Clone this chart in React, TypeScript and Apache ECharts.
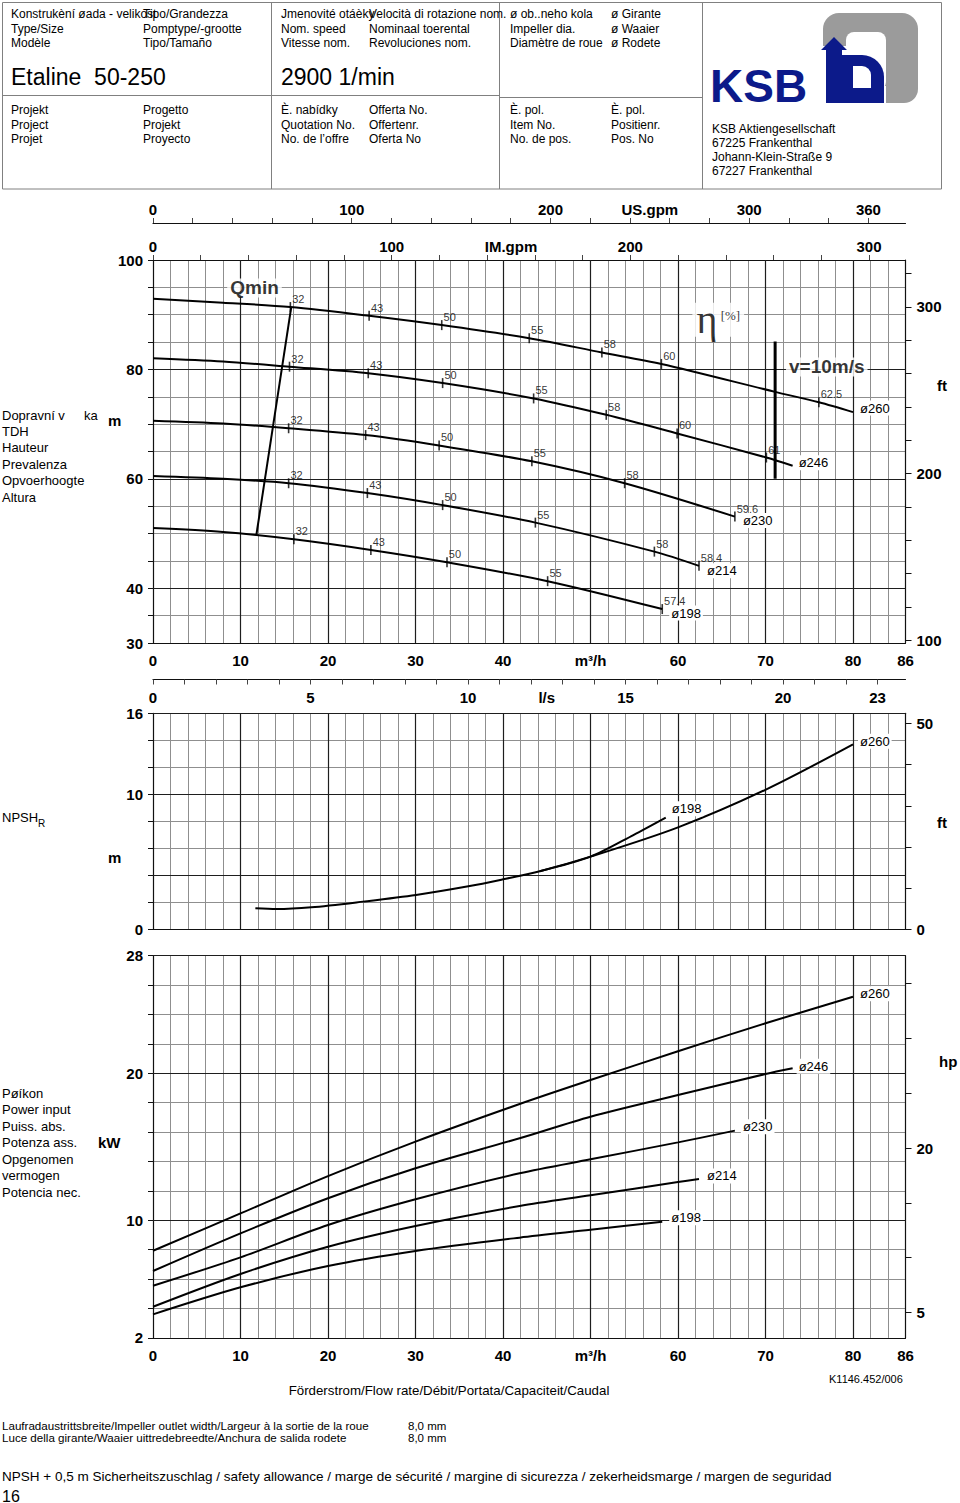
import React, { useEffect, useRef } from 'react';
import * as echarts from 'echarts';

const FONT = '"Liberation Sans", Arial, Helvetica, sans-serif';
const SERIF = '"Liberation Serif", "DejaVu Serif", serif';

// ---- unit conversions ----
const M3H_PER_IMGPM = 0.272765;
const M3H_PER_USGPM = 0.2271247;
const M3H_PER_LS = 3.6;
const FT_PER_M = 3.28084;
const KW_PER_HP = 0.7457;

// ---- axis ranges ----
const Q_MIN = 0, Q_MAX = 86;
const HEAD_MIN = 30, HEAD_MAX = 100;
const NPSH_MIN = 0, NPSH_MAX = 16;
const POWER_MIN = 2, POWER_MAX = 28;

// ---- tick labels ----
const flowLabels = [0, 10, 20, 30, 40, 50, 60, 70, 80, 86];
const flowUnitAt = 50;
const imGpmTicks = [0, 20, 40, 60, 80, 100, 120, 140, 160, 180, 200, 220, 240, 260, 280, 300];
const imGpmLabels = [0, 100, 150, 200, 300];
const imGpmUnitAt = 150;
const usGpmTicks = [0, 20, 40, 60, 80, 100, 120, 140, 160, 180, 200, 220, 240, 260, 280, 300, 320, 340, 360];
const usGpmLabels = [0, 100, 200, 250, 300, 360];
const usGpmUnitAt = 250;
const lsTicks = [0, 1, 2, 3, 4, 5, 6, 7, 8, 9, 10, 11, 12, 13, 14, 15, 16, 17, 18, 19, 20, 21, 22, 23];
const lsLabels = [0, 5, 10, 12.5, 15, 20, 23];
const lsUnitAt = 12.5;
const headLabels = [30, 40, 60, 80, 100];
const headFtTicks = [100, 120, 140, 160, 180, 200, 220, 240, 260, 280, 300, 320];
const headFtLabels = [100, 200, 300];
const npshLabels = [0, 10, 16];
const npshFtTicks = [0, 10, 20, 30, 40, 50];
const npshFtLabels = [0, 50];
const powerLabels = [2, 10, 20, 28];
const hpTicks = [5, 10, 15, 20, 25, 30, 35];
const hpLabels = [5, 20];

// dark (major) grid lines
const flowDark = [10, 20, 30, 40, 50, 60, 70, 80];
const headDark = [40, 60, 80];
const npshDark = [4, 10, 16];
const powerDark = [10, 20, 28];

// ---- curves ----
const diameters = ['ø260', 'ø246', 'ø230', 'ø214', 'ø198'];

// head H [m] vs Q [m3/h]
const head260 = [[0, 92.9], [8, 92.2], [15.7, 91.4], [24.7, 89.8], [33, 88.1], [43, 85.7], [51.3, 83.1], [58.1, 81.0], [71.1, 75.9], [76.1, 74.0], [80, 72.2]];
const head246 = [[0, 82.05], [8, 81.45], [15.6, 80.5], [24.6, 79.3], [33.1, 77.5], [43.5, 74.7], [51.8, 71.7], [59.9, 68.3], [70.1, 63.9], [73.1, 62.4]];
const head230 = [[0, 70.6], [8, 70.1], [15.5, 69.25], [24.3, 68.0], [32.7, 66.1], [43.3, 63.2], [53.9, 59.2], [66.5, 53.1]];
const head214 = [[0, 60.5], [8, 60.0], [15.5, 59.2], [24.5, 57.4], [33.1, 55.2], [43.7, 52.0], [57.3, 46.7], [62.4, 44.1]];
const head198 = [[0, 51.0], [8, 50.3], [16.1, 48.95], [24.9, 47.0], [33.6, 44.75], [45.1, 41.3], [58.2, 36.2]];

// efficiency marks [Q, H, eta]
const eff260 = [[15.7, 91.4, '32'], [24.7, 89.8, '43'], [33.0, 88.1, '50'], [43.0, 85.7, '55'], [51.3, 83.1, '58'], [58.1, 81.0, '60'], [76.1, 74.0, '62.5']];
const eff246 = [[15.6, 80.5, '32'], [24.6, 79.3, '43'], [33.1, 77.5, '50'], [43.5, 74.7, '55'], [51.8, 71.7, '58'], [59.9, 68.3, '60'], [70.1, 63.9, '61']];
const eff230 = [[15.5, 69.25, '32'], [24.3, 68.0, '43'], [32.7, 66.1, '50'], [43.3, 63.2, '55'], [53.9, 59.2, '58'], [66.5, 53.1, '59.6']];
const eff214 = [[15.5, 59.2, '32'], [24.5, 57.4, '43'], [33.1, 55.2, '50'], [43.7, 52.0, '55'], [57.3, 46.7, '58'], [62.4, 44.1, '58.4']];
const eff198 = [[16.1, 48.95, '32'], [24.9, 47.0, '43'], [33.6, 44.75, '50'], [45.1, 41.3, '55'], [58.2, 36.2, '57.4']];

const qminLine = [[15.8, 91.4], [11.8, 49.6]];
const velocityLine = [[71.1, 85.1], [71.1, 60]];
const qminTextAt = [11.6, 94.9];
const etaTextAt = [64.6, 89.1];
const velocityTextAt = [77.0, 80.45];

// NPSH [m]
const npsh260 = [[11.7, 1.56], [14.1, 1.5], [18.1, 1.63], [24.0, 2.05], [30.05, 2.54], [36.2, 3.2], [40, 3.7], [44.2, 4.3], [50, 5.38], [60, 7.55], [70.1, 10.37], [80, 13.7]];
const npsh198 = [[44.2, 4.3], [50, 5.38], [54.9, 6.98], [58.6, 8.27]];

// power [kW]
const power260 = [[0, 7.93], [10, 10.47], [20, 13.01], [30, 15.35], [41.9, 17.91], [50, 19.54], [60, 21.5], [70, 23.4], [80, 25.21]];
const power246 = [[0, 6.55], [10, 9.11], [20, 11.5], [30, 13.54], [41.9, 15.58], [50, 17.05], [60, 18.52], [70, 19.95], [73.1, 20.34]];
const power230 = [[0, 5.55], [10, 7.48], [20, 9.68], [30, 11.43], [41.9, 13.2], [50, 14.15], [60, 15.3], [66.5, 16.1]];
const power214 = [[0, 4.12], [10, 6.35], [20, 8.2], [30, 9.61], [41.9, 10.97], [50, 11.7], [60, 12.6], [62.4, 12.81]];
const power198 = [[0, 3.6], [10, 5.44], [20, 6.89], [30, 7.91], [41.9, 8.82], [50, 9.35], [58.2, 9.9]];

// ---- styles / layout ----
const LIGHT = '#8f8f8f';
const DARK = '#1e1e1e';
const AXIS = '#111111';
const GRID_LEFT = 153;
const GRID_WIDTH = 752.5;
const HEAD_BOX = { top: 260, height: 383 };
const NPSH_BOX = { top: 713.3, height: 216 };
const POWER_BOX = { top: 955.7, height: 382.2 };

const headLabelOffsets = [[5, -4], [4, -3], [6, 4], [6, 5], [7, 4]];
const npshLabelOffsets = [[4, -9], [5, -3]];
const powerLabelOffsets = [[5, -3], [4, -2], [6, -4], [6, -3], [7, -4]];

const tickFont = { color: '#000', fontFamily: FONT, fontWeight: 'bold' as const, fontSize: 15 };

function flowAxis(gridIndex: number, showLabels: boolean) {
  return {
    type: 'value', gridIndex, min: Q_MIN, max: Q_MAX, interval: 2, position: 'bottom',
    axisLine: { show: true, onZero: false, lineStyle: { color: AXIS, width: 1.2 } },
    axisTick: { show: false },
    axisLabel: showLabels
      ? { show: true, customValues: flowLabels, formatter: (v: number) => (v === flowUnitAt ? 'm³/h' : String(v)), margin: 10, ...tickFont }
      : { show: false },
    splitLine: { show: true, lineStyle: { color: LIGHT, width: 1 } },
  };
}

function leftAxis(gridIndex: number, min: number, max: number, interval: number, labels: number[]) {
  return {
    type: 'value', gridIndex, min, max, interval, position: 'left',
    axisLine: { show: true, onZero: false, lineStyle: { color: AXIS, width: 1.2 } },
    axisTick: { show: true, length: 5, lineStyle: { color: AXIS } },
    axisLabel: { show: true, customValues: labels, margin: 10, ...tickFont },
    splitLine: { show: true, lineStyle: { color: LIGHT, width: 1 } },
  };
}

function rightAxis(gridIndex: number, min: number, max: number, ticks: number[], labels: number[]) {
  return {
    type: 'value', gridIndex, min, max, position: 'right',
    axisLine: { show: true, onZero: false, lineStyle: { color: AXIS, width: 1.2 } },
    axisTick: { show: true, length: 6, customValues: ticks, lineStyle: { color: AXIS } },
    axisLabel: { show: true, customValues: labels, margin: 11, ...tickFont },
    splitLine: { show: false },
  };
}

function topAxis(gridIndex: number, max: number, offset: number, ticks: number[], labels: number[], unitAt: number, unit: string, inside: boolean) {
  return {
    type: 'value', gridIndex, min: 0, max, position: 'top', offset,
    axisLine: { show: true, onZero: false, lineStyle: { color: AXIS, width: 1.2 } },
    axisTick: { show: true, inside, length: 5, customValues: ticks, lineStyle: { color: '#444' } },
    axisLabel: {
      show: true, inside, customValues: labels, margin: inside ? 10 : 6,
      formatter: (v: number) => (v === unitAt ? unit : String(v)), ...tickFont,
    },
    splitLine: { show: false },
  };
}

function majorLines(xAxisIndex: number, yAxisIndex: number, xs: number[], ys: number[], anchor: number[]) {
  return {
    type: 'line', xAxisIndex, yAxisIndex, data: [anchor], symbol: 'none', silent: true, z: 1,
    lineStyle: { opacity: 0 },
    markLine: {
      silent: true, symbol: ['none', 'none'], label: { show: false }, animation: false,
      emphasis: { disabled: true },
      lineStyle: { color: DARK, width: 1.2, type: 'solid' },
      data: [...xs.map((x) => ({ xAxis: x })), ...ys.map((y) => ({ yAxis: y }))],
    },
  };
}

function curve(name: string, data: number[][], xAxisIndex: number, yAxisIndex: number, off: number[] | null) {
  return {
    type: 'line', name, data, xAxisIndex, yAxisIndex, smooth: 0.3, symbol: 'none', silent: true, z: 5,
    lineStyle: { color: '#000', width: 2 },
    endLabel: off
      ? { show: true, formatter: name, distance: off[0], offset: [0, off[1]], color: '#000', fontFamily: FONT, fontSize: 13, backgroundColor: '#fff', padding: [1, 2], textBorderWidth: 0 }
      : { show: false },
  };
}

function effMarks(data: (number | string)[][]) {
  return {
    type: 'scatter', xAxisIndex: 0, yAxisIndex: 0, silent: true, z: 6,
    symbol: 'rect', symbolSize: [1.6, 10], itemStyle: { color: '#000' },
    data: data.map((d) => ({ value: [d[0], d[1]], name: d[2] })),
    label: { show: true, formatter: '{b}', position: 'right', distance: 1, offset: [0, -8], color: '#000', fontFamily: FONT, fontSize: 11, textBorderWidth: 0 },
  };
}

function note(at: number[], label: any) {
  return {
    type: 'scatter', xAxisIndex: 0, yAxisIndex: 0, silent: true, z: 7, symbolSize: 0,
    data: [{ value: at }],
    label: { show: true, position: 'inside', textBorderWidth: 0, ...label },
  };
}

type G = any;
function T(x: number, y: number, text: string, size = 12, extra: any = {}): G {
  return { type: 'text', x, y, silent: true, z: 100, style: { text, fontSize: size, fontFamily: FONT, fill: '#000', verticalAlign: 'middle', align: 'left', ...extra } };
}
function L(x1: number, y1: number, x2: number, y2: number): G {
  return { type: 'line', silent: true, z: 100, shape: { x1, y1, x2, y2 }, style: { stroke: '#808080', lineWidth: 1 } };
}

function buildGraphics(): G[] {
  const g: G[] = [];
  // header frame
  g.push({ type: 'rect', silent: true, z: 100, shape: { x: 2.5, y: 2.5, width: 939, height: 186.5 }, style: { fill: 'none', stroke: '#808080', lineWidth: 1 } });
  g.push(L(271.5, 2.5, 271.5, 189));
  g.push(L(499.5, 2.5, 499.5, 189));
  g.push(L(702.5, 2.5, 702.5, 189));
  g.push(L(2.5, 95.5, 499.5, 95.5));
  g.push(L(499.5, 97.5, 702.5, 97.5));
  const rowsTop = [14, 29, 43];
  const rowsBot = [110, 125, 139];
  const cols: [number, string[], string[]][] = [
    [11, ['Konstrukèní øada - velikost', 'Type/Size', 'Modèle'], ['Projekt', 'Project', 'Projet']],
    [143, ['Tipo/Grandezza', 'Pomptype/-grootte', 'Tipo/Tamaño'], ['Progetto', 'Projekt', 'Proyecto']],
    [281, ['Jmenovité otáèky', 'Nom. speed', 'Vitesse nom.'], ['È. nabídky', 'Quotation No.', 'No. de l’offre']],
    [369, ['Velocità di rotazione nom.', 'Nominaal toerental', 'Revoluciones nom.'], ['Offerta No.', 'Offertenr.', 'Oferta No']],
    [510, ['ø ob..neho kola', 'Impeller dia.', 'Diamètre de roue'], ['È. pol.', 'Item No.', 'No. de pos.']],
    [611, ['ø Girante', 'ø Waaier', 'ø Rodete'], ['È. pol.', 'Positienr.', 'Pos. No']],
  ];
  cols.forEach(([x, top, bot]) => {
    top.forEach((s, i) => g.push(T(x, rowsTop[i], s, 12)));
    bot.forEach((s, i) => g.push(T(x, rowsBot[i], s, 12)));
  });
  g.push(T(11, 77, 'Etaline  50-250', 23));
  g.push(T(281, 77, '2900 1/min', 23));
  // KSB logo
  g.push({ type: 'rect', silent: true, z: 100, shape: { x: 823, y: 13, width: 95, height: 90, r: [16, 16, 14, 4] }, style: { fill: '#9b9b9b' } });
  g.push({ type: 'rect', silent: true, z: 101, shape: { x: 846, y: 32, width: 40, height: 58, r: 8 }, style: { fill: '#fff' } });
  g.push({ type: 'rect', silent: true, z: 101, shape: { x: 819, y: 46, width: 30, height: 60 }, style: { fill: '#fff' } });
  g.push({ type: 'rect', silent: true, z: 101, shape: { x: 840, y: 86, width: 46, height: 20 }, style: { fill: '#fff' } });
  g.push({ type: 'polygon', silent: true, z: 102, shape: { points: [[826, 103], [826, 50], [821, 50], [834, 37], [847, 50], [842, 50], [842, 103]] }, style: { fill: '#0c1a8a' } });
  g.push({ type: 'rect', silent: true, z: 102, shape: { x: 840, y: 55, width: 44, height: 48, r: [0, 22, 0, 0] }, style: { fill: '#0c1a8a' } });
  g.push({ type: 'rect', silent: true, z: 103, shape: { x: 853, y: 66, width: 18, height: 22, r: [0, 9, 0, 0] }, style: { fill: '#fff' } });
  g.push(T(710, 86, 'KSB', 46, { fontWeight: 'bold', fill: '#0c1a8a' }));
  ['KSB Aktiengesellschaft', '67225 Frankenthal', 'Johann-Klein-Straße 9', '67227 Frankenthal'].forEach((s, i) => g.push(T(712, 129 + i * 14, s, 12)));
  // left captions
  g.push(T(2, 415, 'Dopravní v', 13));
  g.push(T(84, 415, 'ka', 13));
  ['TDH', 'Hauteur', 'Prevalenza', 'Opvoerhoogte', 'Altura'].forEach((s, i) => g.push(T(2, 431 + i * 16.5, s, 13)));
  g.push(T(108, 420, 'm', 15, { fontWeight: 'bold' }));
  g.push(T(2, 817, 'NPSH', 13));
  g.push(T(38, 823, 'R', 10));
  g.push(T(108, 857, 'm', 15, { fontWeight: 'bold' }));
  ['Pøíkon', 'Power input', 'Puiss. abs.', 'Potenza ass.', 'Opgenomen', 'vermogen', 'Potencia nec.'].forEach((s, i) => g.push(T(2, 1093 + i * 16.5, s, 13)));
  g.push(T(98, 1142, 'kW', 15, { fontWeight: 'bold' }));
  g.push(T(937, 385, 'ft', 15, { fontWeight: 'bold' }));
  g.push(T(937, 822, 'ft', 15, { fontWeight: 'bold' }));
  g.push(T(939, 1061, 'hp', 15, { fontWeight: 'bold' }));
  // footer
  g.push(T(829, 1379, 'K1146.452/006', 11));
  g.push(T(449, 1390, 'Förderstrom/Flow rate/Débit/Portata/Capaciteit/Caudal', 13.3, { align: 'center' }));
  g.push(T(2, 1425, 'Laufradaustrittsbreite/Impeller outlet width/Largeur à la sortie de la roue', 11.6));
  g.push(T(2, 1437, 'Luce della girante/Waaier uittredebreedte/Anchura de salida rodete', 11.6));
  g.push(T(408, 1426, '8,0 mm', 11.5));
  g.push(T(408, 1438, '8,0 mm', 11.5));
  g.push(T(2, 1476, 'NPSH + 0,5 m Sicherheitszuschlag / safety allowance / marge de sécurité / margine di sicurezza / zekerheidsmarge / margen de seguridad', 13.5));
  g.push(T(2, 1496, '16', 16));
  return g;
}

function buildOption() {
  const headCurves = [head260, head246, head230, head214, head198];
  const powerCurves = [power260, power246, power230, power214, power198];
  const series: any[] = [];
  series.push(majorLines(0, 0, flowDark, headDark, [Q_MIN, HEAD_MIN]));
  series.push(majorLines(3, 2, flowDark, npshDark, [Q_MIN, NPSH_MIN]));
  series.push(majorLines(5, 4, flowDark, powerDark, [Q_MIN, POWER_MIN]));
  headCurves.forEach((d, i) => series.push(curve(diameters[i], d, 0, 0, headLabelOffsets[i])));
  [eff260, eff246, eff230, eff214, eff198].forEach((e) => series.push(effMarks(e)));
  series.push({ type: 'line', data: qminLine, xAxisIndex: 0, yAxisIndex: 0, symbol: 'none', silent: true, z: 5, lineStyle: { color: '#000', width: 2 } });
  series.push({ type: 'line', data: velocityLine, xAxisIndex: 0, yAxisIndex: 0, symbol: 'none', silent: true, z: 5, lineStyle: { color: '#000', width: 3 } });
  series.push(note(qminTextAt, { formatter: 'Qmin', fontFamily: FONT, fontWeight: 'bold', fontSize: 19, color: '#000', backgroundColor: '#fff', padding: [0, 3] }));
  series.push(note(velocityTextAt, { formatter: 'v=10m/s', fontFamily: FONT, fontWeight: 'bold', fontSize: 19, color: '#000', backgroundColor: '#fff', padding: [0, 3] }));
  series.push(note(etaTextAt, {
    formatter: '{e|η} {p|[%]}', backgroundColor: '#fff', padding: [0, 4],
    rich: { e: { fontFamily: SERIF, fontSize: 40, lineHeight: 34, color: '#000' }, p: { fontFamily: SERIF, fontSize: 13, color: '#000', padding: [0, 0, 8, 0] } },
  }));
  series.push(curve('ø198', npsh198, 3, 2, npshLabelOffsets[0]));
  series.push(curve('ø260', npsh260, 3, 2, npshLabelOffsets[1]));
  powerCurves.forEach((d, i) => series.push(curve(diameters[i], d, 5, 4, powerLabelOffsets[i])));

  return {
    animation: false,
    backgroundColor: '#fff',
    grid: [
      { left: GRID_LEFT, top: HEAD_BOX.top, width: GRID_WIDTH, height: HEAD_BOX.height },
      { left: GRID_LEFT, top: NPSH_BOX.top, width: GRID_WIDTH, height: NPSH_BOX.height },
      { left: GRID_LEFT, top: POWER_BOX.top, width: GRID_WIDTH, height: POWER_BOX.height },
    ],
    xAxis: [
      flowAxis(0, true),
      topAxis(0, Q_MAX / M3H_PER_IMGPM, 0, imGpmTicks, imGpmLabels, imGpmUnitAt, 'IM.gpm', false),
      topAxis(0, Q_MAX / M3H_PER_USGPM, 37, usGpmTicks, usGpmLabels, usGpmUnitAt, 'US.gpm', false),
      flowAxis(1, false),
      topAxis(1, Q_MAX / M3H_PER_LS, NPSH_BOX.top - 679.5, lsTicks, lsLabels, lsUnitAt, 'l/s', true),
      flowAxis(2, true),
    ],
    yAxis: [
      leftAxis(0, HEAD_MIN, HEAD_MAX, 5, headLabels),
      rightAxis(0, HEAD_MIN * FT_PER_M, HEAD_MAX * FT_PER_M, headFtTicks, headFtLabels),
      leftAxis(1, NPSH_MIN, NPSH_MAX, 2, npshLabels),
      rightAxis(1, NPSH_MIN * FT_PER_M, NPSH_MAX * FT_PER_M, npshFtTicks, npshFtLabels),
      leftAxis(2, POWER_MIN, POWER_MAX, 2, powerLabels),
      rightAxis(2, POWER_MIN / KW_PER_HP, POWER_MAX / KW_PER_HP, hpTicks, hpLabels),
    ],
    series,
    graphic: buildGraphics(),
  };
}

export default function App() {
  const ref = useRef<HTMLDivElement>(null);
  useEffect(() => {
    if (!ref.current) return;
    const chart = echarts.init(ref.current, undefined, { renderer: 'svg' });
    chart.setOption(buildOption() as any);
    return () => chart.dispose();
  }, []);
  return <div ref={ref} style={{ position: 'absolute', left: 0, top: 0, width: 960, height: 1503, background: '#fff' }} />;
}
